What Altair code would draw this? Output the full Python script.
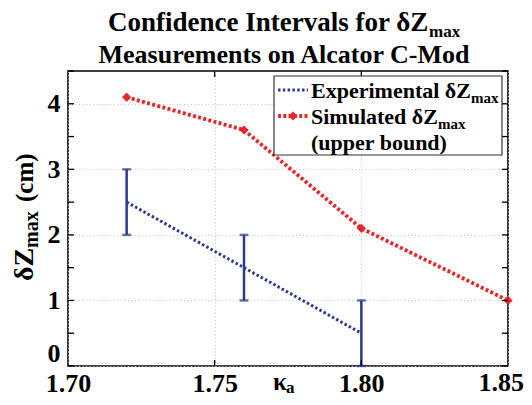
import altair as alt
import pandas as pd

# ---------------- data ----------------
kappa_exp = [1.72, 1.76, 1.80]
dz_exp = [2.5, 1.5, 0.5]
dz_exp_lo = [2.0, 1.0, 0.0]
dz_exp_hi = [3.0, 2.0, 1.0]
kappa_sim = [1.72, 1.76, 1.80, 1.85]
dz_sim = [4.1, 3.6, 2.1, 1.0]
x_ticks = [1.70, 1.75, 1.80, 1.85]
x_minor = [1.75, 1.80]
y_ticks = [0, 0.5, 1, 1.5, 2, 2.5, 3, 3.5, 4, 4.5]
title_lines = ["Confidence Intervals for \u03b4Z", "Measurements on Alcator C-Mod"]
sub_max = "max"
legend_texts = ["Experimental \u03b4Z", "Simulated \u03b4Z", "(upper bound)"]
y_title = ["\u03b4Z", "max", "(cm)"]
x_title = ["\u03ba", "a"]

# ---------------- style ----------------
W, H = 440, 295
BLUE = "#2b3a8f"
RED = "#e8262b"
FONT = "Liberation Serif"

exp_df = pd.DataFrame({"k": kappa_exp, "dz": dz_exp, "lo": dz_exp_lo, "hi": dz_exp_hi})
sim_df = pd.DataFrame({"k": kappa_sim, "dz": dz_sim})
ytick_df = pd.DataFrame({"v": y_ticks})
xtick_df = pd.DataFrame({"v": x_minor})
last_df = pd.DataFrame({"v": [x_ticks[-1]], "t": [f"{x_ticks[-1]:.2f}"]})

xs = alt.Scale(domain=[1.70, 1.85], nice=False, zero=False)
ys = alt.Scale(domain=[0, 4.5], nice=False, zero=False)

x_axis = alt.Axis(values=x_ticks, title=None, labelFont=FONT,
                  labelExpr="datum.value > 1.849 ? '' : format(datum.value, '.2f')",
                  labelFontWeight="bold", labelFontSize=26, labelColor="black",
                  labelFlush=False, labelPadding=4, tickSize=0, domain=False,
                  grid=True, gridDash=[1, 2.5], gridColor="#c4c4c4", labelOverlap=False)
y_axis = alt.Axis(values=y_ticks, title=None, labelFont=FONT,
                  labelFontWeight="bold", labelFontSize=26, labelColor="black",
                  labelExpr="datum.value % 1 == 0 ? format(datum.value, 'd') : ''",
                  labelFlush=True, labelPadding=8, tickSize=0, domain=False,
                  grid=True, gridDash=[1, 2.5], gridColor="#c4c4c4", labelOverlap=False)

X = alt.X("k:Q", scale=xs, axis=x_axis)
Y = alt.Y("dz:Q", scale=ys, axis=y_axis)

blue_line = alt.Chart(exp_df).mark_line(color=BLUE, strokeWidth=3, strokeDash=[2.5, 2.3]).encode(x=X, y=Y)
err = alt.Chart(exp_df).mark_rule(color=BLUE, strokeWidth=2.5).encode(
    x=alt.X("k:Q", scale=xs), y=alt.Y("lo:Q", scale=ys), y2="hi:Q")
cap_lo = alt.Chart(exp_df).mark_tick(color=BLUE, orient="horizontal", size=9, thickness=2.5).encode(
    x=alt.X("k:Q", scale=xs), y=alt.Y("lo:Q", scale=ys))
cap_hi = alt.Chart(exp_df).mark_tick(color=BLUE, orient="horizontal", size=9, thickness=2.5).encode(
    x=alt.X("k:Q", scale=xs), y=alt.Y("hi:Q", scale=ys))
red_line = alt.Chart(sim_df).mark_line(color=RED, strokeWidth=3.8, strokeDash=[3, 2.3]).encode(
    x=alt.X("k:Q", scale=xs), y=alt.Y("dz:Q", scale=ys))
red_pts = alt.Chart(sim_df).mark_point(shape="diamond", filled=True, size=85, color=RED, opacity=1).encode(
    x=alt.X("k:Q", scale=xs), y=alt.Y("dz:Q", scale=ys))

# last x tick label, kept inside the page edge
last_lab = alt.Chart(last_df).mark_text(
    align="right", baseline="top", dx=16, font=FONT, fontWeight="bold",
    fontSize=26, color="black").encode(
    x=alt.X("v:Q", scale=xs), y=alt.value(H + 4), text="t:N")

TL = 6
yt_l = alt.Chart(ytick_df).mark_rule(color="black", strokeWidth=1.3).encode(
    y=alt.Y("v:Q", scale=ys), x=alt.value(0), x2=alt.value(TL))
yt_r = alt.Chart(ytick_df).mark_rule(color="black", strokeWidth=1.3).encode(
    y=alt.Y("v:Q", scale=ys), x=alt.value(W - TL), x2=alt.value(W))
xt_b = alt.Chart(xtick_df).mark_rule(color="black", strokeWidth=1.3).encode(
    x=alt.X("v:Q", scale=xs), y=alt.value(H - TL), y2=alt.value(H))
xt_t = alt.Chart(xtick_df).mark_rule(color="black", strokeWidth=1.3).encode(
    x=alt.X("v:Q", scale=xs), y=alt.value(0), y2=alt.value(TL))

one = pd.DataFrame({"d": [0]})


def label(txt, x, y, size, angle=0):
    return alt.Chart(pd.DataFrame({"t": [txt]})).mark_text(
        align="left", baseline="alphabetic", font=FONT, fontWeight="bold",
        fontSize=size, color="black", angle=angle).encode(
        x=alt.value(x), y=alt.value(y), text="t:N")


# legend
LX0, LX1, LY0, LY1 = 206, 434, 5, 84
leg_box = alt.Chart(one).mark_rect(fill="white", stroke="#333333", strokeWidth=1.2).encode(
    x=alt.value(LX0), x2=alt.value(LX1), y=alt.value(LY0), y2=alt.value(LY1))
leg_blue = alt.Chart(one).mark_rule(color=BLUE, strokeWidth=3, strokeDash=[2.5, 2.3]).encode(
    x=alt.value(210), x2=alt.value(240), y=alt.value(19))
leg_red = alt.Chart(one).mark_rule(color=RED, strokeWidth=3.8, strokeDash=[3, 2.3]).encode(
    x=alt.value(210), x2=alt.value(240), y=alt.value(45))
leg_dia = alt.Chart(one).mark_point(shape="diamond", filled=True, size=85, color=RED, opacity=1).encode(
    x=alt.value(225), y=alt.value(45))

texts = [
    label(legend_texts[0], 243, 27, 22),
    label(sub_max, 403, 32, 15),
    label(legend_texts[1], 243, 53, 22),
    label(sub_max, 370, 58, 15),
    label(legend_texts[2], 243, 79, 22),
    # title
    label(title_lines[0], 40, -40, 27),
    label(sub_max, 361, -34, 17),
    alt.Chart(pd.DataFrame({"t": [title_lines[1]]})).mark_text(
        align="center", baseline="alphabetic", font=FONT, fontWeight="bold",
        fontSize=26, color="black").encode(x=alt.value(216), y=alt.value(-8), text="t:N"),
    # y title (rotated)
    label(y_title[0], -35, 210, 28, 270),
    label(y_title[1], -30, 177, 20, 270),
    label(y_title[2], -35, 131, 25, 270),
    # x title
    label(x_title[0], 205, 319, 25),
    label(x_title[1], 218, 322, 17),
]

chart = alt.layer(
    blue_line, err, cap_lo, cap_hi, red_line, red_pts, last_lab,
    yt_l, yt_r, xt_b, xt_t,
    leg_box, leg_blue, leg_red, leg_dia, *texts
).properties(
    width=W, height=H,
    autosize=alt.AutoSizeParams(type="none"),
    padding={"left": 60, "top": 63, "right": 16, "bottom": 31},
).configure_view(stroke="black", strokeWidth=1.6)

chart.save("out.html", embed_options={"renderer": "svg", "actions": False})
